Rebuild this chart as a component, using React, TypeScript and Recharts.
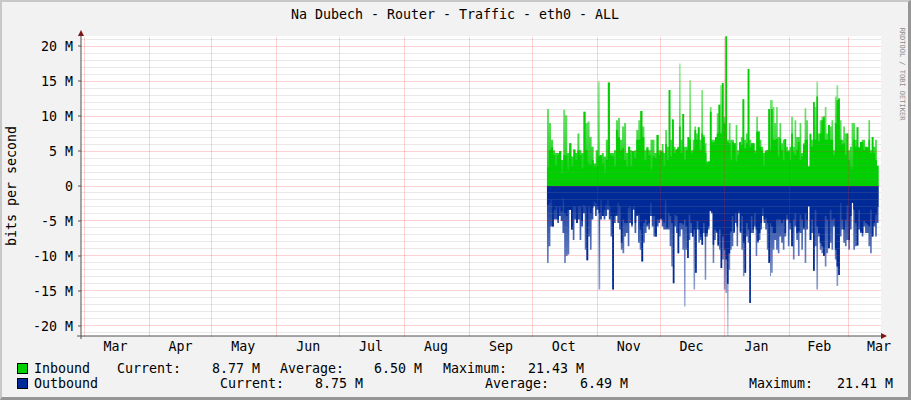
import React from "react";
import {
  ComposedChart,
  Area,
  XAxis,
  YAxis,
  CartesianGrid,
  ReferenceLine,
} from "recharts";

// values in M bits/s: [solid level, spike tip]
// three stretches: early Oct - Nov, Dec - mid Jan, mid Jan - mid Mar
const inboundOctNov = [
  [2.6, 11.0], [5.1, 9.0], [5.5, 6.6], [4.4, 5.1], [3.0, 4.7], [4.4, 4.7], [5.0, 5.0], [1.8, 3.7], [4.4, 10.9], [4.4, 10.1],
  [2.3, 4.7], [6.1, 6.1], [2.8, 4.2], [5.2, 5.2], [3.7, 4.7], [5.1, 7.5], [4.4, 5.1], [2.5, 4.7], [10.6, 10.6], [5.1, 9.0],
  [3.2, 9.2], [3.0, 7.0], [3.7, 5.6], [2.8, 3.2], [2.8, 5.1], [4.2, 14.9], [4.4, 4.4], [3.2, 4.7], [1.8, 4.2], [3.7, 6.6],
  [14.8, 14.8], [4.4, 4.7], [4.2, 4.7], [2.8, 5.1], [8.0, 9.4], [7.0, 9.7], [5.1, 6.6], [5.4, 8.5], [3.7, 9.0], [2.8, 4.7],
  [5.6, 5.6], [2.8, 5.1], [5.0, 5.0], [4.0, 5.1], [6.6, 8.0], [6.6, 9.4], [10.7, 10.7], [7.0, 8.5], [3.7, 5.1], [5.4, 5.6],
  [4.4, 5.1], [2.3, 6.6], [4.2, 6.6], [4.0, 4.7], [7.3, 7.3], [4.4, 5.1],
];
const inboundDecJan = [
  [4.9, 5.1], [4.9, 6.0], [2.8, 4.7], [6.0, 8.0], [3.7, 5.6], [13.7, 13.7], [4.2, 6.6], [9.5, 9.5], [4.7, 5.6], [5.2, 5.2],
  [5.4, 5.6], [8.5, 17.5], [4.7, 6.6], [10.3, 10.3], [3.7, 5.6], [5.1, 5.6], [7.0, 7.0], [6.6, 15.1], [4.7, 5.1], [5.1, 6.6],
  [8.0, 8.5], [6.6, 7.5], [8.4, 8.4], [5.1, 6.6], [7.5, 13.7], [7.0, 7.3], [4.7, 6.1], [3.2, 3.5], [3.5, 3.5], [10.6, 11.3],
  [6.2, 6.6], [6.3, 6.6], [7.0, 7.0], [7.5, 10.4], [11.6, 11.6], [7.5, 14.4], [14.7, 14.7], [9.0, 9.9], [21.4, 21.4], [6.3, 6.6],
  [6.1, 9.0], [3.7, 6.6], [6.3, 6.6], [6.1, 6.1], [3.5, 8.7], [4.4, 5.1], [6.3, 6.3], [5.9, 7.0], [12.4, 12.4], [5.4, 6.6],
  [6.1, 7.5], [16.7, 16.7], [5.6, 6.6], [6.1, 6.1], [6.1, 6.1], [4.7, 5.1], [7.8, 9.9], [7.8, 7.8], [5.6, 6.6], [5.1, 5.6],
  [2.9, 4.7], [4.9, 5.1], [5.1, 5.1], [11.0, 11.0], [5.1, 12.3],
];
const inboundJanMar = [
  [11.0, 12.3], [6.6, 11.3], [6.6, 9.0], [6.7, 11.3], [4.2, 7.0], [6.8, 9.0], [5.1, 6.1], [3.7, 6.6], [6.7, 6.7], [4.9, 5.6],
  [4.9, 5.1], [3.7, 5.6], [7.5, 9.9], [4.8, 5.6], [4.4, 9.4], [5.1, 7.0], [6.3, 7.0], [3.7, 9.0], [4.2, 4.7], [5.9, 6.1],
  [6.6, 11.1], [6.6, 9.4], [2.8, 2.8], [7.4, 7.5], [5.6, 6.6], [12.0, 12.0], [6.6, 11.3], [12.8, 14.9], [6.4, 7.5], [7.5, 9.4],
  [9.4, 9.9], [9.8, 10.0], [6.6, 11.3], [6.6, 7.5], [8.7, 8.7], [6.6, 8.5], [6.6, 9.4], [4.4, 5.1], [9.0, 12.8], [12.3, 14.4],
  [12.5, 12.5], [6.6, 9.4], [6.0, 6.6], [6.1, 8.5], [4.4, 7.5], [7.5, 7.5], [3.7, 5.1], [2.8, 5.6], [2.3, 9.0], [6.6, 9.0],
  [5.6, 6.6], [8.4, 8.4], [5.4, 5.6], [6.3, 6.3], [6.3, 6.6], [5.1, 6.6], [5.6, 5.6], [5.4, 5.6], [6.6, 9.4], [4.7, 5.1],
  [7.0, 7.0], [4.7, 5.6], [3.7, 6.6], [2.9, 2.9], [3.7, 8.5],
];

const outboundOctNov = [
  [2.7, 11.0], [2.4, 8.6], [2.0, 5.8], [5.8, 5.8], [3.4, 4.8], [2.9, 4.8], [4.8, 5.3], [2.9, 4.3], [3.6, 5.0], [1.7, 6.7],
  [3.9, 11.0], [4.3, 10.0], [3.4, 9.8], [3.4, 3.4], [6.2, 6.2], [2.9, 7.7], [2.9, 4.8], [5.3, 5.3], [2.9, 4.8], [2.9, 7.7],
  [5.0, 5.8], [2.7, 3.9], [2.9, 9.1], [10.6, 10.6], [2.9, 7.2], [3.9, 9.1], [3.1, 4.8], [2.2, 2.9], [2.4, 4.3], [2.9, 3.4],
  [3.9, 14.8], [2.0, 4.8], [4.3, 4.3], [3.4, 4.8], [2.7, 4.3], [2.0, 3.4], [2.9, 4.8], [4.3, 7.2], [14.8, 14.8], [4.3, 5.3],
  [4.1, 4.3], [2.4, 5.3], [2.9, 6.2], [8.1, 9.1], [4.8, 9.6], [5.3, 7.2], [5.3, 6.7], [3.1, 8.6], [2.9, 5.3], [5.5, 5.8],
  [2.9, 3.4], [5.3, 6.7], [4.1, 4.3], [4.1, 8.1], [6.2, 9.1], [10.8, 10.8], [5.3, 8.1], [4.8, 6.7], [5.5, 5.8], [5.3, 6.2],
  [2.4, 4.3], [4.3, 5.8], [4.3, 7.2], [7.2, 7.2], [4.8, 5.8], [4.8, 5.3],
];
const outboundDecJan = [
  [4.6, 4.8], [4.8, 5.8], [5.2, 6.2], [2.0, 6.2], [6.0, 6.2], [3.9, 6.2], [4.3, 8.6], [5.3, 11.5], [13.9, 13.9], [4.1, 5.8],
  [4.3, 6.7], [9.6, 9.6], [5.3, 7.2], [5.3, 6.2], [5.5, 9.1], [4.8, 17.2], [5.8, 9.1], [10.3, 10.3], [4.1, 7.7], [5.3, 6.7],
  [7.2, 7.2], [6.2, 14.8], [12.4, 12.4], [5.0, 6.2], [6.2, 8.1], [7.2, 7.7], [8.4, 8.4], [5.3, 6.7], [7.2, 13.4], [6.7, 7.2],
  [5.8, 6.2], [3.5, 3.6], [3.6, 3.9], [8.4, 11.0], [6.2, 7.7], [6.5, 6.7], [8.4, 8.6], [6.2, 9.1], [11.7, 11.7], [7.2, 10.5],
  [9.1, 14.8], [10.5, 15.3], [14.0, 21.4], [9.6, 12.0], [6.5, 9.1], [4.3, 8.6], [6.5, 6.7], [3.9, 5.3], [5.8, 8.6], [3.6, 3.9],
  [6.5, 6.7], [4.3, 9.1], [8.1, 12.9], [12.4, 12.4], [5.3, 7.2], [6.2, 8.1], [16.7, 16.7], [4.3, 6.7], [6.2, 6.7], [3.9, 5.8],
  [6.2, 10.0], [7.9, 8.1], [6.7, 7.7], [5.3, 6.2], [3.1, 4.3], [4.8, 5.3], [4.6, 6.2], [5.3, 9.1], [11.0, 11.0], [5.3, 12.9],
];
const outboundJanMar = [
  [5.8, 12.4], [6.7, 9.1], [6.7, 7.7], [4.8, 9.1], [4.8, 9.6], [4.8, 7.2], [5.3, 8.1], [4.8, 9.1], [6.7, 7.2], [4.1, 4.8],
  [4.8, 8.6], [5.3, 6.2], [8.6, 8.6], [4.8, 10.5], [3.9, 5.8], [6.7, 7.7], [6.5, 10.0], [4.1, 6.7], [4.8, 9.1], [6.0, 6.2],
  [3.9, 11.0], [4.8, 6.2], [2.9, 2.9], [7.7, 7.7], [4.8, 6.7], [12.1, 12.1], [3.4, 8.6], [5.8, 14.8], [6.7, 7.2], [8.1, 9.1],
  [8.6, 9.6], [10.0, 10.0], [4.3, 11.5], [4.8, 9.6], [8.9, 8.9], [3.4, 8.1], [4.8, 9.1], [4.6, 5.8], [9.1, 10.5], [11.5, 14.3],
  [12.7, 12.7], [2.4, 7.2], [4.8, 6.2], [6.2, 8.1], [4.8, 8.6], [2.7, 7.7], [7.7, 9.1], [4.3, 6.2], [2.4, 2.4], [3.4, 9.1],
  [5.3, 8.6], [8.5, 8.5], [3.4, 6.2], [6.5, 6.7], [6.7, 7.2], [5.0, 5.8], [5.3, 6.7], [5.5, 6.7], [5.8, 8.6], [3.4, 9.6],
  [7.2, 7.2], [5.3, 5.8], [4.1, 7.2], [3.0, 5.3], [3.4, 8.1],
];

// day ranges (days since Mar 1) covered by each stretch above
const stretchDays = [
  [221, 274.3],
  [275, 327.5],
  [328, 379.3],
];

// month boundaries and label positions, days since Mar 1
const monthStartDays = [0, 31, 61, 92, 122, 153, 184, 214, 245, 275, 306, 337, 365];
const monthLabelDays = [15, 46, 76, 107, 137, 168, 199, 229, 260, 290, 321, 351, 379.5];
const monthLabels = ["Mar", "Apr", "May", "Jun", "Jul", "Aug", "Sep", "Oct", "Nov", "Dec", "Jan", "Feb", "Mar"];

const yMajorTicks = [-20, -15, -10, -5, 0, 5, 10, 15, 20];
const yMinorTicks = [
  -21, -19, -18, -17, -16, -14, -13, -12, -11, -9, -8, -7, -6, -4, -3, -2, -1,
  1, 2, 3, 4, 6, 7, 8, 9, 11, 12, 13, 14, 16, 17, 18, 19, 21,
];

const legendRows = [
  { name: "Inbound", color: "#00CF00", current: "8.77 M", average: "6.50 M", maximum: "21.43 M" },
  { name: "Outbound", color: "#002A97", current: "8.75 M", average: "6.49 M", maximum: "21.41 M" },
];

const MONO = '"DejaVu Sans Mono", monospace';
const FS = 13.3;

type Row = {
  day: number;
  inSolid: number | null;
  inPeak: number | null;
  outSolid: number | null;
  outPeak: number | null;
};

const buildRows = (): Row[] => {
  const rows: Row[] = [];
  const inbound = [inboundOctNov, inboundDecJan, inboundJanMar];
  const outbound = [outboundOctNov, outboundDecJan, outboundJanMar];
  stretchDays.forEach(([a, b], s) => {
    inbound[s].forEach(([solid, peak], i, arr) => {
      rows.push({
        day: a + ((b - a) * i) / (arr.length - 1),
        inSolid: solid,
        inPeak: peak,
        outSolid: null,
        outPeak: null,
      });
    });
    outbound[s].forEach(([solid, peak], i, arr) => {
      rows.push({
        day: a + ((b - a) * i) / (arr.length - 1),
        inSolid: null,
        inPeak: null,
        outSolid: -solid,
        outPeak: -peak,
      });
    });
  });
  return rows.sort((p, q) => p.day - q.day);
};

const data = buildRows();

const fmtY = (v: number) => (v === 0 ? "0" : `${v} M`);

// dotted rrdtool-style grid line, drawn pixel-aligned
const gridLine = (color: string) => (p: any) => {
  const x1 = Math.floor(p.x1) + 0.5;
  const x2 = Math.floor(p.x2) + 0.5;
  const y1 = Math.floor(p.y1) + 0.5;
  const y2 = Math.floor(p.y2) + 0.5;
  return (
    <line
      x1={x1}
      y1={y1}
      x2={x2}
      y2={y2}
      stroke={color}
      strokeWidth={1}
      strokeDasharray="1 1"
    />
  );
};
const minorLine = gridLine("rgba(140,140,140,0.38)");
const majorLine = gridLine("rgba(240,40,40,0.42)");

export default function App() {
  return (
    <div
      style={{
        position: "absolute",
        left: 0,
        top: 0,
        width: 911,
        height: 400,
        background: "#F2F2F2",
        overflow: "hidden",
      }}
    >
      <ComposedChart
        width={911}
        height={400}
        data={data}
        margin={{ top: 36, right: 30, bottom: 34, left: 21 }}
      >
        <defs>
          <linearGradient id="inFade" x1="0" y1="0" x2="0" y2="1">
            <stop offset="0%" stopColor="#00CF00" stopOpacity={0.2} />
            <stop offset="70%" stopColor="#00CF00" stopOpacity={0.75} />
            <stop offset="100%" stopColor="#00CF00" stopOpacity={1} />
          </linearGradient>
          <linearGradient id="outFade" x1="0" y1="0" x2="0" y2="1">
            <stop offset="0%" stopColor="#002A97" stopOpacity={1} />
            <stop offset="30%" stopColor="#002A97" stopOpacity={0.75} />
            <stop offset="100%" stopColor="#002A97" stopOpacity={0.2} />
          </linearGradient>
        </defs>
        <CartesianGrid horizontal={false} vertical={false} fill="#FFFFFF" stroke="none" />
        <XAxis
          type="number"
          dataKey="day"
          domain={[-1.5, 380.5]}
          allowDataOverflow
          ticks={monthLabelDays}
          interval={0}
          tickFormatter={(d: number) => monthLabels[monthLabelDays.indexOf(d)]}
          tick={{ fontFamily: MONO, fontSize: FS, fill: "#000" }}
          tickLine={false}
          tickSize={0}
          tickMargin={6}
          axisLine={{ stroke: "#505050" }}
          height={30}
        />
        <YAxis
          type="number"
          domain={[-21.43, 21.43]}
          allowDataOverflow
          ticks={yMajorTicks}
          interval={0}
          tickFormatter={fmtY}
          tick={{ fontFamily: MONO, fontSize: FS, fill: "#000" }}
          tickSize={3}
          tickMargin={5}
          tickLine={{ stroke: "#505050" }}
          axisLine={{ stroke: "#505050" }}
          width={60}
        />
        <Area
          type="stepAfter"
          dataKey="inPeak"
          stroke="none"
          fill="url(#inFade)"
          fillOpacity={1}
          connectNulls
          dot={false}
          activeDot={false}
          isAnimationActive={false}
        />
        <Area
          type="stepAfter"
          dataKey="inSolid"
          stroke="none"
          fill="#00CF00"
          fillOpacity={1}
          connectNulls
          dot={false}
          activeDot={false}
          isAnimationActive={false}
        />
        <Area
          type="stepAfter"
          dataKey="outPeak"
          stroke="none"
          fill="url(#outFade)"
          fillOpacity={1}
          connectNulls
          dot={false}
          activeDot={false}
          isAnimationActive={false}
        />
        <Area
          type="stepAfter"
          dataKey="outSolid"
          stroke="none"
          fill="#002A97"
          fillOpacity={1}
          connectNulls
          dot={false}
          activeDot={false}
          isAnimationActive={false}
        />
        {yMinorTicks.map((v) => (
          <ReferenceLine key={`m${v}`} y={v} shape={minorLine} />
        ))}
        {yMajorTicks.map((v) => (
          <ReferenceLine key={`M${v}`} y={v} shape={majorLine} />
        ))}
        {monthStartDays.map((d) => (
          <ReferenceLine key={`x${d}`} x={d} shape={majorLine} />
        ))}
      </ComposedChart>

      <svg
        width={911}
        height={400}
        style={{ position: "absolute", left: 0, top: 0, pointerEvents: "none" }}
      >
        <text
          x={455}
          y={14}
          textAnchor="middle"
          dominantBaseline="central"
          fontFamily={MONO}
          fontSize={FS}
          fill="#000"
        >
          Na Dubech - Router - Traffic - eth0 - ALL
        </text>
        <text
          x={11}
          y={186}
          transform="rotate(-90 11 186)"
          textAnchor="middle"
          dominantBaseline="central"
          fontFamily={MONO}
          fontSize={FS}
          fill="#000"
        >
          bits per second
        </text>
        <text
          x={902}
          y={74}
          transform="rotate(90 902 74)"
          textAnchor="middle"
          dominantBaseline="central"
          fontFamily={MONO}
          fontSize={7}
          fill="#8C8C8C"
        >
          RRDTOOL / TOBI OETIKER
        </text>
        {/* axis arrows and axis overhang */}
        <line x1={77} y1={336} x2={81} y2={336} stroke="#505050" />
        <line x1={81} y1={336} x2={81} y2={339} stroke="#505050" />
        <polygon points="78,36 84,36 81,30" fill="#7F1414" />
        <polygon points="881,333 881,339 887,336" fill="#7F1414" />

        {legendRows.map((r, i) => {
          const cy = i === 0 ? 368.5 : 383.5;
          const cols =
            i === 0
              ? { cur: 117, curV: 260, avg: 280, avgV: 422, max: 443, maxV: 584 }
              : { cur: 220, curV: 363, avg: 485, avgV: 628, max: 749, maxV: 893 };
          const t = {
            fontFamily: MONO,
            fontSize: FS,
            fill: "#000",
            dominantBaseline: "central" as const,
          };
          return (
            <g key={r.name}>
              <rect x={17.5} y={cy - 5} width={10} height={10} fill={r.color} stroke="#000" strokeWidth={1} />
              <text x={34} y={cy} {...t}>{r.name}</text>
              <text x={cols.cur} y={cy} {...t}>Current:</text>
              <text x={cols.curV} y={cy} textAnchor="end" {...t}>{r.current}</text>
              <text x={cols.avg} y={cy} {...t}>Average:</text>
              <text x={cols.avgV} y={cy} textAnchor="end" {...t}>{r.average}</text>
              <text x={cols.max} y={cy} {...t}>Maximum:</text>
              <text x={cols.maxV} y={cy} textAnchor="end" {...t}>{r.maximum}</text>
            </g>
          );
        })}
      </svg>

      <div
        style={{
          position: "absolute",
          left: 0,
          top: 0,
          width: 911,
          height: 400,
          boxSizing: "border-box",
          borderTop: "2px solid #C8C8C8",
          borderLeft: "2px solid #C8C8C8",
          borderRight: "3px solid #969696",
          borderBottom: "3px solid #969696",
          pointerEvents: "none",
        }}
      />
    </div>
  );
}
